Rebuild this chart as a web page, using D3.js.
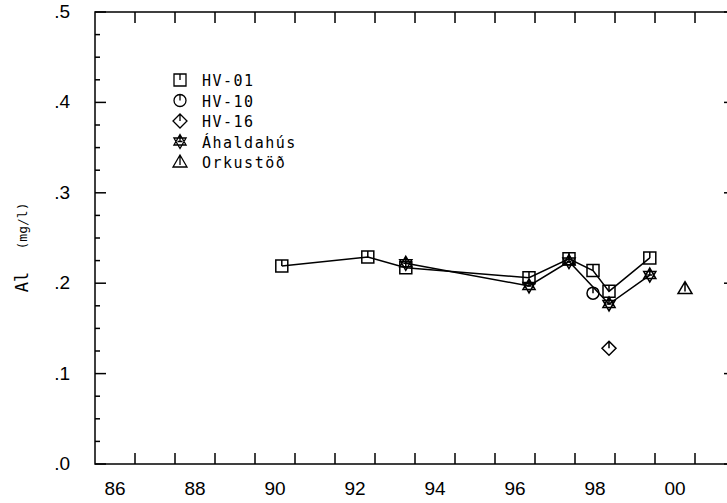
<!DOCTYPE html>
<html>
<head>
<meta charset="utf-8">
<script src="https://cdn.jsdelivr.net/npm/d3@7"></script>
<style>
  html, body { margin: 0; padding: 0; background: #fff; }
  svg { display: block; }
</style>
</head>
<body>
<svg id="chart" width="727" height="503"></svg>
<script>
// ---- data ----
const xLabelYears = [1986, 1988, 1990, 1992, 1994, 1996, 1998, 2000];
const xLabels = ["86", "88", "90", "92", "94", "96", "98", "00"];
const yTickValues = [0, 0.1, 0.2, 0.3, 0.4, 0.5];
const yTickLabels = [".0", ".1", ".2", ".3", ".4", ".5"];

const hv01Years = [1990.67, 1992.82, 1993.77, 1996.85, 1997.85, 1998.45, 1998.85, 1999.87];
const hv01Vals  = [0.219, 0.229, 0.217, 0.206, 0.227, 0.214, 0.191, 0.228];
const hv10Years = [1998.45];
const hv10Vals  = [0.189];
const hv16Years = [1998.85];
const hv16Vals  = [0.128];
const ahYears   = [1993.77, 1996.85, 1997.85, 1998.85, 1999.87];
const ahVals    = [0.222, 0.197, 0.224, 0.177, 0.209];
const orkYears  = [2000.75];
const orkVals   = [0.194];

const seriesNames = ["HV-01", "HV-10", "HV-16", "Áhaldahús", "Orkustöð"];
const seriesSymbols = ["square", "circle", "diamond", "hexagram", "triangle"];

// ---- layout ----
const svg = d3.select("#chart");
const mLeft = 95, mRight = 735, mTop = 12, mBottom = 464;
const x = d3.scaleLinear().domain([1986, 2002]).range([mLeft, mRight]);
const y = d3.scaleLinear().domain([0, 0.5]).range([mBottom, mTop]);

const g = svg.append("g").attr("stroke", "#000").attr("fill", "none").attr("stroke-width", 1.5);

// frame
g.append("rect").attr("x", mLeft).attr("y", mTop).attr("width", mRight - mLeft).attr("height", mBottom - mTop);

// x ticks (each year)
const yearTicks = d3.range(1987, 2002);
g.selectAll(".xb").data(yearTicks).join("line")
  .attr("x1", d => x(d)).attr("x2", d => x(d))
  .attr("y1", mBottom).attr("y2", mBottom - 11);
g.selectAll(".xt").data(yearTicks).join("line")
  .attr("x1", d => x(d)).attr("x2", d => x(d))
  .attr("y1", mTop).attr("y2", mTop + 11);

// y ticks
const yMinor = d3.range(0, 0.5001, 0.025);
const isMajor = d => Math.abs(Math.round(d * 10) - d * 10) < 1e-6;
g.selectAll(".yl").data(yMinor).join("line")
  .attr("x1", mLeft).attr("y1", d => y(d)).attr("y2", d => y(d))
  .attr("x2", d => mLeft + (isMajor(d) ? 11 : 5));
g.selectAll(".yr").data(yMinor).join("line")
  .attr("x1", mRight).attr("y1", d => y(d)).attr("y2", d => y(d))
  .attr("x2", d => mRight - (isMajor(d) ? 11 : 5));

// x labels (centered within year)
svg.selectAll(".xlab").data(xLabelYears).join("text")
  .attr("x", d => x(d + 0.5)).attr("y", 495)
  .attr("text-anchor", "middle")
  .attr("font-family", "Liberation Sans, Arial, sans-serif").attr("font-size", 19)
  .text((d, i) => xLabels[i]);

// y labels
svg.selectAll(".ylab").data(yTickValues).join("text")
  .attr("x", 70).attr("y", d => y(d) + 6)
  .attr("text-anchor", "end")
  .attr("font-family", "Liberation Sans, Arial, sans-serif").attr("font-size", 19)
  .text((d, i) => yTickLabels[i]);

// y axis title
svg.append("text")
  .attr("transform", "translate(28,282) rotate(-90)")
  .attr("text-anchor", "middle")
  .attr("font-family", "DejaVu Sans Mono, monospace").attr("font-size", 17)
  .text("Al");
svg.append("text")
  .attr("transform", "translate(27,226) rotate(-90)")
  .attr("text-anchor", "middle")
  .attr("font-family", "DejaVu Sans Mono, monospace").attr("font-size", 13)
  .text("(mg/l)");

// ---- symbols ----
function symbolPath(type) {
  const p = d3.path();
  if (type === "square") {
    p.rect(-6, -6, 12, 12);
    p.moveTo(0, -6); p.lineTo(0, 0);
  } else if (type === "circle") {
    p.moveTo(6, 0); p.arc(0, 0, 6, 0, 2 * Math.PI);
    p.moveTo(0, -6); p.lineTo(0, 0);
  } else if (type === "diamond") {
    p.moveTo(0, -7); p.lineTo(7, 0); p.lineTo(0, 7); p.lineTo(-7, 0); p.closePath();
    p.moveTo(0, -7); p.lineTo(0, 0);
  } else if (type === "triangle") {
    p.moveTo(0, -7); p.lineTo(7, 5); p.lineTo(-7, 5); p.closePath();
    p.moveTo(0, -7); p.lineTo(0, 3);
  } else if (type === "hexagram") {
    const r = 7;
    const pt = a => [r * Math.cos(a), r * Math.sin(a)];
    const t1 = [-90, 30, 150].map(a => pt(a * Math.PI / 180));
    const t2 = [90, 210, 330].map(a => pt(a * Math.PI / 180));
    [t1, t2].forEach(t => { p.moveTo(...t[0]); p.lineTo(...t[1]); p.lineTo(...t[2]); p.closePath(); });
    p.moveTo(0, -7); p.lineTo(0, 0);
    p.moveTo(-2.5, 0); p.lineTo(2.5, 0);
  }
  return p.toString();
}

const line = d3.line().x(d => x(d[0])).y(d => y(d[1]));
const series = [
  { years: hv01Years, vals: hv01Vals, sym: "square", connect: true },
  { years: hv10Years, vals: hv10Vals, sym: "circle", connect: false },
  { years: hv16Years, vals: hv16Vals, sym: "diamond", connect: false },
  { years: ahYears, vals: ahVals, sym: "hexagram", connect: true },
  { years: orkYears, vals: orkVals, sym: "triangle", connect: false }
];

series.forEach(s => {
  const pts = s.years.map((yr, i) => [yr, s.vals[i]]);
  if (s.connect) g.append("path").attr("d", line(pts));
  g.selectAll(null).data(pts).join("path")
    .attr("transform", d => `translate(${x(d[0])},${y(d[1])})`)
    .attr("d", symbolPath(s.sym));
});

// ---- legend ----
const lg = svg.append("g");
seriesNames.forEach((name, i) => {
  const yy = 80 + i * 20.5;
  lg.append("path").attr("transform", `translate(180,${yy})`)
    .attr("d", symbolPath(seriesSymbols[i]))
    .attr("fill", "none").attr("stroke", "#000").attr("stroke-width", 1.3);
  lg.append("text").attr("x", 202).attr("y", yy + 6)
    .attr("font-family", "DejaVu Sans Mono, monospace").attr("font-size", 15)
    .attr("letter-spacing", 1.5)
    .text(name);
});
</script>
</body>
</html>
